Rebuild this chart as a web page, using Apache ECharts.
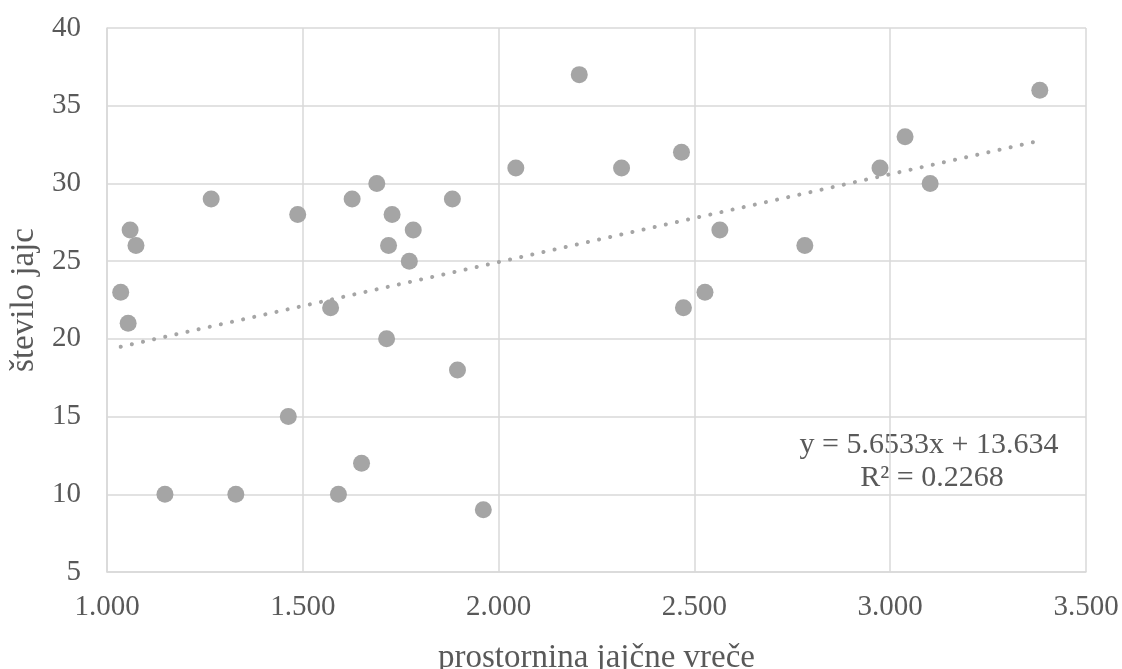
<!DOCTYPE html>
<html>
<head>
<meta charset="utf-8">
<script src="https://cdn.jsdelivr.net/npm/echarts@6/dist/echarts.min.js"></script>
<style>
html,body{margin:0;padding:0;background:#fff;}
#c{width:1122px;height:669px;}
</style>
</head>
<body>
<div id="c"></div>
<script>
// egg-sac volume (x) and number of eggs (y)
const volume = [1.035, 1.054, 1.059, 1.074, 1.148, 1.266, 1.329, 1.463, 1.487, 1.571,
                1.591, 1.626, 1.650, 1.689, 1.714, 1.719, 1.728, 1.772, 1.782, 1.882,
                1.895, 1.961, 2.044, 2.206, 2.314, 2.467, 2.472, 2.527, 2.565, 2.782,
                2.974, 3.038, 3.102, 3.382];
const eggs   = [23, 21, 27, 26, 10, 29, 10, 15, 28, 22,
                10, 29, 12, 30, 20, 26, 28, 25, 27, 29,
                18, 9, 31, 37, 31, 32, 22, 23, 27, 26,
                31, 33, 30, 36];
// linear trendline endpoints (as drawn)
const trendX = [1.035, 3.382];
const trendY = [19.49, 32.75];
const xTicks = [1.0, 1.5, 2.0, 2.5, 3.0, 3.5];
const yTicks = [5, 10, 15, 20, 25, 30, 35, 40];
const eqText = 'y = 5.6533x + 13.634';
const r2Text = 'R² = 0.2268';

const FONT = "'Liberation Serif','Times New Roman',serif";
const TXT = '#595959';
const GRID = '#d9d9d9';
const MARK = '#a5a5a5';

const chart = echarts.init(document.getElementById('c'), null, {renderer:'canvas'});
chart.setOption({
  animation: false,
  backgroundColor: '#ffffff',
  grid: {left: 107, right: 36, top: 28, bottom: 97, containLabel: false, outerBoundsMode: 'none'},
  xAxis: {
    type: 'value',
    min: xTicks[0], max: xTicks[xTicks.length-1], interval: 0.5,
    name: 'prostornina jajčne vreče',
    nameLocation: 'middle', nameGap: 70,
    nameTextStyle: {fontFamily: FONT, fontSize: 33, color: TXT},
    axisLine: {show: true, lineStyle: {color: GRID, width: 1.5}},
    axisTick: {show: false},
    axisLabel: {fontFamily: FONT, fontSize: 29, color: TXT, margin: 21,
                formatter: v => v.toFixed(3)},
    splitLine: {show: true, lineStyle: {color: GRID, width: 1.5}}
  },
  yAxis: {
    type: 'value',
    min: yTicks[0], max: yTicks[yTicks.length-1], interval: 5,
    name: 'število jajc',
    nameLocation: 'middle', nameGap: 63, nameRotate: 90,
    nameTextStyle: {fontFamily: FONT, fontSize: 33, color: TXT},
    axisLine: {show: true, lineStyle: {color: GRID, width: 1.5}},
    axisTick: {show: false},
    axisLabel: {fontFamily: FONT, fontSize: 29, color: TXT, margin: 26},
    splitLine: {show: true, lineStyle: {color: GRID, width: 1.5}}
  },
  series: [
    {
      type: 'scatter',
      data: volume.map((v, i) => [v, eggs[i]]),
      symbol: 'circle', symbolSize: 17,
      itemStyle: {color: MARK, opacity: 1},
      z: 2
    },
    {
      type: 'line',
      data: trendX.map((v, i) => [v, trendY[i]]),
      showSymbol: false, symbol: 'none',
      lineStyle: {color: MARK, width: 4, type: [0.1, 11.3], cap: 'round'},
      z: 3
    }
  ],
  graphic: [
    {type: 'text', x: 929, y: 445,
     style: {text: eqText, font: '30px ' + FONT, fill: TXT, align: 'center', verticalAlign: 'middle'}},
    {type: 'text', x: 932, y: 478,
     style: {text: r2Text, font: '30px ' + FONT, fill: TXT, align: 'center', verticalAlign: 'middle'}}
  ]
});
</script>
</body>
</html>
